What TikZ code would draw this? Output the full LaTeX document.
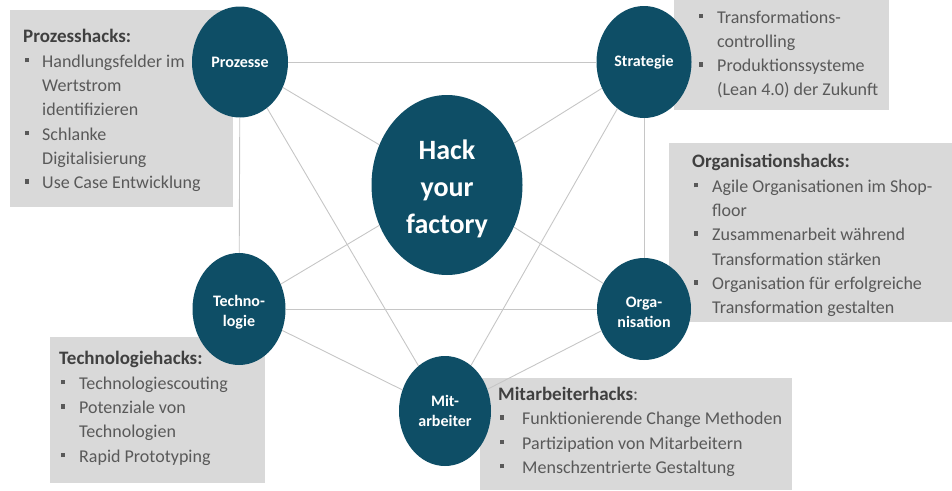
\documentclass[tikz,border=0pt]{standalone}
\usepackage{fontspec}
\setmainfont{Carlito}
\usetikzlibrary{shapes.geometric}
\definecolor{teal}{RGB}{14,78,102}
\definecolor{boxgray}{RGB}{217,217,217}
\definecolor{linegray}{RGB}{198,198,198}
\definecolor{txtgray}{RGB}{89,89,89}
\definecolor{headgray}{RGB}{64,64,64}
\newlength\bulw
\newcommand{\bu}{\makebox[\bulw][l]{\hspace*{1.5pt}\rule[5pt]{4.5pt}{4.5pt}}}
\newcommand{\nb}{\hspace*{\bulw}}
\newcommand{\hd}[1]{{\fontsize{19}{24}\selectfont\bfseries\color{headgray}#1}}
\tikzset{
  hub/.style={ellipse,fill=teal,draw=none,inner sep=0pt,text=white,align=center,font=\bfseries\fontsize{16}{20}\selectfont},
  hublabel/.style={inner sep=0pt,text=white,align=center,font=\bfseries\fontsize{16}{20}\selectfont},
  hubtext/.style={inner sep=0pt,text=white,align=center,font=\bfseries\fontsize{28}{37}\selectfont},
  link/.style={draw=linegray,line width=0.9pt},
  hackbox/.style={fill=boxgray,draw=none,inner sep=0pt,anchor=north west},
  hacktext/.style={inner sep=0pt,anchor=base west,text=txtgray,font=\fontsize{18}{24.3}\selectfont}
}
\begin{document}
\begin{tikzpicture}[x=1pt,y=-1pt]
\useasboundingbox (0,0) rectangle (952,490);
% boxes
\node[hackbox,minimum width=223pt,minimum height=197pt] (bp) at (10,10) {};
\node[hackbox,minimum width=215pt,minimum height=115pt] (bs) at (674,-5) {};
\node[hackbox,minimum width=285pt,minimum height=179pt] (bo) at (669,143) {};
\node[hackbox,minimum width=215pt,minimum height=146pt] (bt) at (50,337) {};
\node[hackbox,minimum width=312pt,minimum height=112pt] (bm) at (480,378) {};
% texts
\node[hacktext] (tp) at (23,42) {\setlength\bulw{19pt}\begin{tabular}[t]{@{}l@{}}
\hd{Prozesshacks:}\\[1pt]
\bu Handlungsfelder im\\
\nb Wertstrom\\
\nb identifizieren\\
\bu Schlanke\\
\nb Digitalisierung\\
\bu Use Case Entwicklung
\end{tabular}};
\node[hacktext] (ts) at (697,23) {\setlength\bulw{20pt}\begin{tabular}[t]{@{}l@{}}
\bu Transformations-\\
\nb controlling\\
\bu Produktionssysteme\\
\nb (Lean 4.0) der Zukunft
\end{tabular}};
\node[hacktext] (to) at (692,167) {\setlength\bulw{20pt}\begin{tabular}[t]{@{}l@{}}
\hd{Organisationshacks:}\\[1pt]
\bu Agile Organisationen im Shop-\\
\nb floor\\
\bu Zusammenarbeit während\\
\nb Transformation stärken\\
\bu Organisation für erfolgreiche\\
\nb Transformation gestalten
\end{tabular}};
\node[hacktext] (tt) at (59,364) {\setlength\bulw{20pt}\begin{tabular}[t]{@{}l@{}}
\hd{Technologiehacks:}\\[1pt]
\bu Technologiescouting\\
\bu Potenziale von\\
\nb Technologien\\
\bu Rapid Prototyping
\end{tabular}};
\node[hacktext] (tm) at (498,400) {\setlength\bulw{24pt}\begin{tabular}[t]{@{}l@{}}
\hd{Mitarbeiterhacks}{\fontsize{19}{24}\selectfont:}\\[0.5pt]
\bu Funktionierende Change Methoden\\
\bu Partizipation von Mitarbeitern\\
\bu Menschzentrierte Gestaltung
\end{tabular}};
% hubs
\node[hub,minimum width=96pt,minimum height=111pt] (p) at (240,62) {Prozesse};
\node[hub,minimum width=95pt,minimum height=112pt] (s) at (644,62) {Strategie};
\node[hub,minimum width=151pt,minimum height=180pt] (h) at (447,185) {};
\node[hubtext] (hl) at ([yshift=-4pt]h.center) {Hack\\your\\factory};
\node[hub,minimum width=93pt,minimum height=112pt] (t) at (239,309) {};
\node[hublabel] (tl) at ([yshift=-3pt]t.center) {Techno-\\logie};
\node[hub,minimum width=94pt,minimum height=102pt] (o) at (644,309) {};
\node[hublabel] (ol) at ([yshift=-3pt]o.center) {Orga-\\nisation};
\node[hub,minimum width=92pt,minimum height=110pt] (m) at (445,411) {Mit-\\arbeiter};
% links
\draw[link] (p) -- (s);
\draw[link] (p) -- (t);
\draw[link] (s) -- (o);
\draw[link] (t) -- (o);
\draw[link] (p) -- (h);
\draw[link] (s) -- (h);
\draw[link] (t) -- (h);
\draw[link] (o) -- (h);
\draw[link] (p) -- (m);
\draw[link] (s) -- (m);
\draw[link] (t) -- (m);
\draw[link] (o) -- (m);
\end{tikzpicture}
\end{document}
